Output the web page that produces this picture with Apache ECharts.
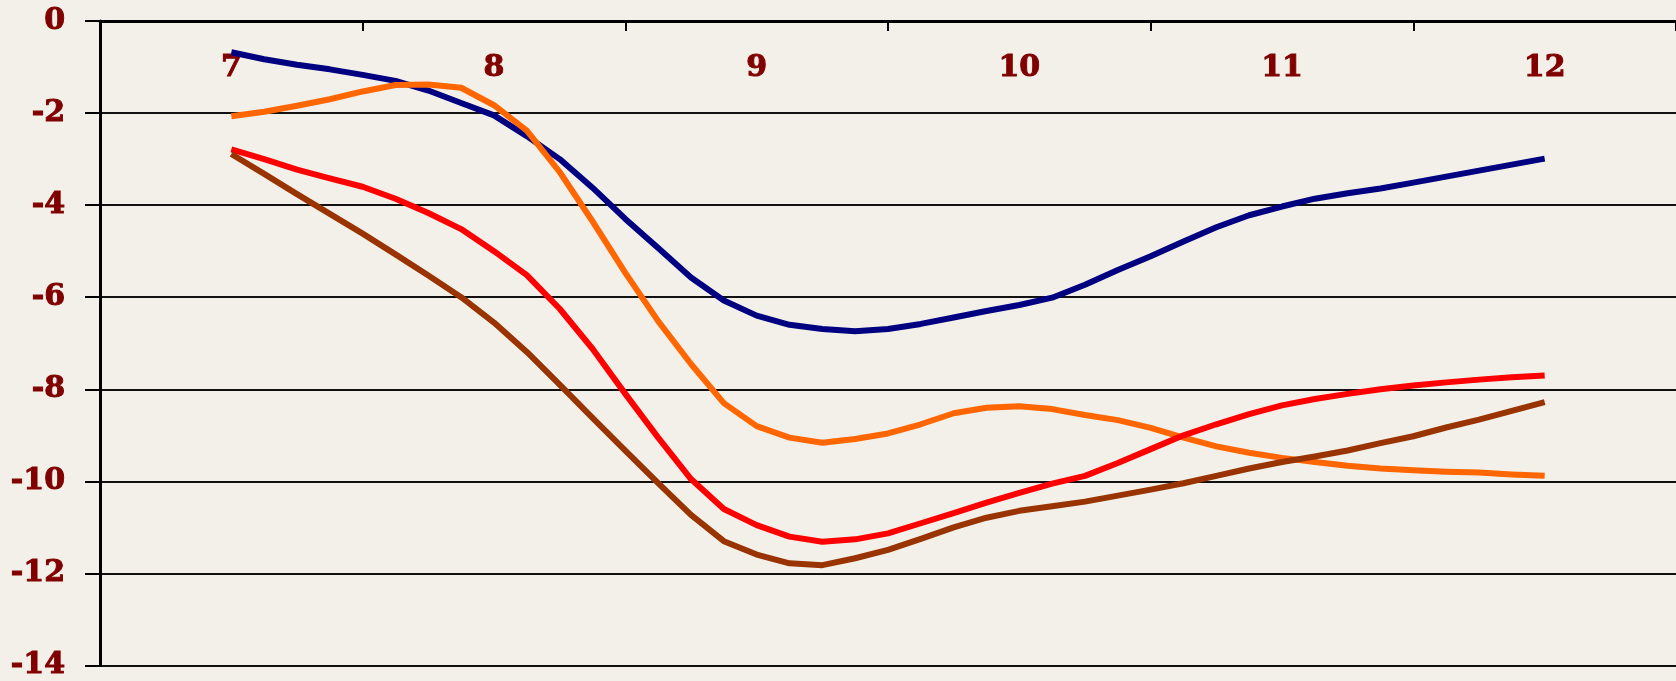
<!DOCTYPE html>
<html>
<head>
<meta charset="utf-8">
<script src="https://cdn.jsdelivr.net/npm/echarts@6/dist/echarts.min.js"></script>
<style>
html,body{margin:0;padding:0;background:#F3F0E9;}
#chart{width:1676px;height:681px;}
</style>
</head>
<body>
<div id="chart"></div>
<script>
// Category tick labels (top axis)
var categories = ['7', '8', '9', '10', '11', '12'];
// Common x positions of the sampled points
var xs = [7, 7.125, 7.25, 7.375, 7.5, 7.625, 7.75, 7.875,
          8, 8.125, 8.25, 8.375, 8.5, 8.625, 8.75, 8.875,
          9, 9.125, 9.25, 9.375, 9.5, 9.625, 9.75, 9.875,
          10, 10.125, 10.25, 10.375, 10.5, 10.625, 10.75, 10.875,
          11, 11.125, 11.25, 11.375, 11.5, 11.625, 11.75, 11.875, 12];
// Series values
var navy = [-0.68, -0.83, -0.95, -1.05, -1.17, -1.30, -1.51, -1.78,
            -2.05, -2.50, -3.00, -3.62, -4.30, -4.93, -5.57, -6.07,
            -6.40, -6.60, -6.69, -6.74, -6.69, -6.58, -6.44, -6.30,
            -6.17, -6.01, -5.73, -5.41, -5.11, -4.79, -4.48, -4.22,
            -4.03, -3.86, -3.74, -3.64, -3.51, -3.38, -3.25, -3.12, -2.99];
var orange = [-2.07, -1.97, -1.84, -1.70, -1.53, -1.39, -1.38, -1.45,
              -1.83, -2.38, -3.28, -4.35, -5.47, -6.52, -7.45, -8.30,
              -8.80, -9.05, -9.16, -9.08, -8.96, -8.76, -8.52, -8.40,
              -8.37, -8.43, -8.56, -8.67, -8.84, -9.05, -9.24, -9.38,
              -9.49, -9.58, -9.66, -9.72, -9.76, -9.79, -9.81, -9.85, -9.88];
var red = [-2.79, -3.00, -3.23, -3.42, -3.60, -3.86, -4.17, -4.52,
           -5.00, -5.52, -6.25, -7.12, -8.10, -9.05, -9.95, -10.60,
           -10.95, -11.20, -11.31, -11.26, -11.13, -10.91, -10.69, -10.46,
           -10.25, -10.05, -9.88, -9.60, -9.30, -9.00, -8.76, -8.54,
           -8.35, -8.21, -8.10, -8.00, -7.92, -7.85, -7.79, -7.74, -7.70];
var brown = [-2.89, -3.32, -3.76, -4.19, -4.62, -5.07, -5.53, -6.00,
             -6.55, -7.19, -7.90, -8.62, -9.33, -10.04, -10.73, -11.30,
             -11.59, -11.78, -11.82, -11.67, -11.49, -11.25, -11.00, -10.79,
             -10.64, -10.54, -10.44, -10.31, -10.18, -10.04, -9.88, -9.72,
             -9.58, -9.46, -9.33, -9.17, -9.02, -8.83, -8.66, -8.47, -8.28];
// Y tick labels
var yMin = -14, yMax = 0, yStep = 2;

function pairs(vals) { return xs.map(function (x, i) { return [x, vals[i]]; }); }
function line(name, vals, color) {
  return {
    name: name, type: 'line', xAxisIndex: 1, yAxisIndex: 0,
    data: pairs(vals), symbol: 'none', smooth: false,
    lineStyle: { color: color, width: 6, join: 'round' }, itemStyle: { color: color },
    animation: false, z: 5
  };
}

var labelFont = { color: '#800000', fontFamily: 'DejaVu Serif', fontWeight: 'bold', fontSize: 30,
  textBorderColor: '#800000', textBorderWidth: 1 };

var chart = echarts.init(document.getElementById('chart'), null, { renderer: 'canvas' });
chart.setOption({
  backgroundColor: '#F3F0E9',
  animation: false,
  grid: { left: 100, top: 21, width: 1587, height: 651, containLabel: false },
  xAxis: [
    {
      type: 'category', position: 'top', data: categories, boundaryGap: true,
      axisLine: { show: true, lineStyle: { color: '#000', width: 3 } },
      axisTick: { show: true, inside: true, length: 10, lineStyle: { color: '#000', width: 2 } },
      axisLabel: Object.assign({ show: true, inside: true, margin: 32 }, labelFont),
      splitLine: { show: false }
    },
    {
      type: 'value', min: 6.5, max: 12.5, show: false
    }
  ],
  yAxis: [{
    type: 'value', min: yMin, max: yMax, interval: yStep,
    axisLine: { show: true, lineStyle: { color: '#000', width: 3 } },
    axisTick: { show: true, length: 15, lineStyle: { color: '#000', width: 2 } },
    axisLabel: Object.assign({ margin: 35 }, labelFont),
    splitLine: { show: true, lineStyle: { color: '#111', width: 2 } }
  }],
  series: [
    line('navy', navy, '#000080'),
    line('orange', orange, '#FF6600'),
    line('red', red, '#FF0000'),
    line('brown', brown, '#993300')
  ]
});
</script>
</body>
</html>
